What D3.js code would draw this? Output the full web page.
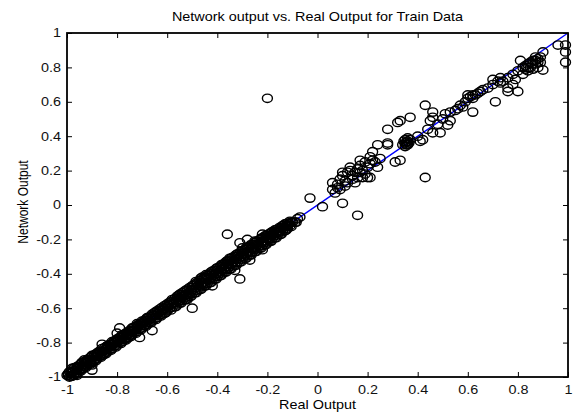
<!DOCTYPE html>
<html>
<head>
<meta charset="utf-8">
<script src="https://d3js.org/d3.v7.min.js"></script>
<style>
body { margin: 0; background: #fff; }
svg { display: block; font-family: "Liberation Sans", Arial, sans-serif; }
</style>
</head>
<body>
<svg id="chart" width="574" height="412"></svg>
<script>
var svg = d3.select('#chart');
var width = +svg.attr('width'), height = +svg.attr('height');

// tick values on both axes
var tickValues = [-1, -0.8, -0.6, -0.4, -0.2, 0, 0.2, 0.4, 0.6, 0.8, 1];

// dense band of train samples [real, network]
var denseBand = [
[-1.00,-0.99],[-0.99,-1.00],[-0.98,-0.97],[-0.97,-0.98],[-0.96,-0.95],[-0.95,-0.96],[-0.94,-0.92],[-0.93,-0.94],
[-0.92,-0.91],[-0.91,-0.92],[-0.90,-0.88],[-0.89,-0.90],[-0.88,-0.87],[-0.87,-0.88],[-0.86,-0.85],[-0.85,-0.86],
[-0.84,-0.82],[-0.83,-0.84],[-0.82,-0.81],[-0.81,-0.82],[-0.80,-0.78],[-0.79,-0.80],[-0.78,-0.77],[-0.77,-0.78],
[-0.76,-0.75],[-0.75,-0.76],[-0.74,-0.72],[-0.73,-0.74],[-0.72,-0.71],[-0.71,-0.72],[-0.70,-0.69],[-0.69,-0.70],
[-0.68,-0.66],[-0.67,-0.68],[-0.66,-0.65],[-0.65,-0.66],[-0.64,-0.62],[-0.63,-0.64],[-0.62,-0.61],[-0.61,-0.63],
[-0.60,-0.59],[-0.59,-0.60],[-0.58,-0.56],[-0.57,-0.59],[-0.56,-0.54],[-0.55,-0.57],[-0.54,-0.52],[-0.53,-0.55],
[-0.52,-0.50],[-0.51,-0.53],[-0.50,-0.48],[-0.49,-0.51],[-0.48,-0.46],[-0.47,-0.49],[-0.46,-0.45],[-0.45,-0.47],
[-0.44,-0.42],[-0.43,-0.45],[-0.42,-0.40],[-0.41,-0.43],[-0.40,-0.38],[-0.39,-0.41],[-0.38,-0.36],[-0.37,-0.39],
[-0.36,-0.34],[-0.35,-0.37],[-0.34,-0.32],[-0.33,-0.35],[-0.32,-0.30],[-0.31,-0.33],[-0.30,-0.28],[-0.29,-0.31],
[-0.28,-0.27],[-0.27,-0.29],[-0.26,-0.25],[-0.25,-0.27],[-0.24,-0.23],[-0.23,-0.25],[-0.22,-0.21],[-0.21,-0.23],
[-0.20,-0.19],[-0.19,-0.21],[-0.18,-0.17],[-0.17,-0.19],[-0.16,-0.15],[-0.15,-0.17],[-0.14,-0.13],[-0.13,-0.15],
[-0.12,-0.12],[-0.11,-0.12],[-0.10,-0.10],[-0.09,-0.10],[-0.08,-0.08],
[-0.995,-0.98],[-0.975,-0.99],[-0.955,-0.94],[-0.935,-0.95],[-0.915,-0.90],[-0.895,-0.91],[-0.875,-0.86],[-0.855,-0.87],
[-0.835,-0.83],[-0.815,-0.80],[-0.795,-0.79],[-0.775,-0.76],[-0.755,-0.77],[-0.735,-0.73],[-0.715,-0.70],[-0.695,-0.68],
[-0.675,-0.67],[-0.655,-0.64],[-0.635,-0.63],[-0.615,-0.60],[-0.595,-0.58],[-0.575,-0.57],[-0.555,-0.56],[-0.535,-0.53],
[-0.515,-0.52],[-0.495,-0.49],[-0.475,-0.47],[-0.455,-0.46],[-0.435,-0.43],[-0.415,-0.41],[-0.395,-0.40],[-0.375,-0.37],
[-0.355,-0.36],[-0.335,-0.33],[-0.315,-0.31],[-0.295,-0.30],[-0.275,-0.27],[-0.255,-0.26],[-0.235,-0.24],[-0.215,-0.22],
[-0.195,-0.20],[-0.175,-0.18],[-0.155,-0.16],[-0.135,-0.14],[-0.115,-0.11],
[-0.30,-0.25],[-0.27,-0.32],[-0.25,-0.21],[-0.22,-0.26],[-0.35,-0.31],[-0.33,-0.38],[-0.45,-0.43],[-0.42,-0.47],
[-0.98,-0.95],[-0.96,-0.99],[-0.93,-0.90],[-0.90,-0.93]
];

// samples lying right on the fit line inside the band
var bandCentre = [
[-0.995,-0.99],[-0.985,-0.975],[-0.975,-0.97],[-0.965,-0.96],[-0.955,-0.945],[-0.945,-0.94],[-0.935,-0.93],[-0.925,-0.915],
[-0.915,-0.91],[-0.905,-0.90],[-0.895,-0.885],[-0.885,-0.88],[-0.875,-0.87],[-0.865,-0.855],[-0.855,-0.85],[-0.845,-0.84],
[-0.835,-0.825],[-0.825,-0.82],[-0.815,-0.81],[-0.805,-0.795],[-0.795,-0.79],[-0.785,-0.78],[-0.775,-0.765],[-0.765,-0.76],
[-0.755,-0.75],[-0.745,-0.735],[-0.735,-0.73],[-0.725,-0.72],[-0.715,-0.705],[-0.705,-0.70],[-0.695,-0.69],[-0.685,-0.675],
[-0.675,-0.67],[-0.665,-0.66],[-0.655,-0.645],[-0.645,-0.64],[-0.635,-0.63],[-0.625,-0.615],[-0.615,-0.61],[-0.605,-0.60],
[-0.595,-0.585],[-0.585,-0.58],[-0.575,-0.57],[-0.565,-0.555],[-0.555,-0.55],[-0.545,-0.54],[-0.535,-0.525],[-0.525,-0.52],
[-0.515,-0.51],[-0.505,-0.495],[-0.495,-0.49],[-0.485,-0.48],[-0.475,-0.465],[-0.465,-0.46],[-0.455,-0.45],[-0.445,-0.435],
[-0.435,-0.43],[-0.425,-0.42],[-0.415,-0.405],[-0.405,-0.40],[-0.395,-0.39],[-0.385,-0.375],[-0.375,-0.37],[-0.365,-0.36],
[-0.355,-0.345],[-0.345,-0.34],[-0.335,-0.33],[-0.325,-0.315],[-0.315,-0.31],[-0.305,-0.30],[-0.295,-0.285],[-0.285,-0.28],
[-0.275,-0.27],[-0.265,-0.255],[-0.255,-0.25],[-0.245,-0.24],[-0.235,-0.225],[-0.225,-0.22],[-0.215,-0.21],[-0.205,-0.195],
[-0.195,-0.19],[-0.185,-0.18],[-0.175,-0.165],[-0.165,-0.16],[-0.155,-0.15],[-0.145,-0.135],[-0.135,-0.13],[-0.125,-0.12],
[-0.115,-0.11],[-0.105,-0.10]
];

// upper edge of the band
var bandAbove = [
[-0.99,-0.97],[-0.98,-0.96],[-0.97,-0.945],[-0.96,-0.94],[-0.95,-0.93],[-0.94,-0.915],[-0.93,-0.91],[-0.92,-0.90],
[-0.91,-0.89],[-0.90,-0.875],[-0.89,-0.87],[-0.88,-0.86],[-0.87,-0.85],[-0.86,-0.835],[-0.85,-0.83],[-0.84,-0.82],
[-0.83,-0.81],[-0.82,-0.795],[-0.81,-0.79],[-0.80,-0.78],[-0.79,-0.77],[-0.78,-0.755],[-0.77,-0.75],[-0.76,-0.74],
[-0.75,-0.73],[-0.74,-0.715],[-0.73,-0.71],[-0.72,-0.70],[-0.71,-0.69],[-0.70,-0.675],[-0.69,-0.67],[-0.68,-0.655],
[-0.67,-0.65],[-0.66,-0.635],[-0.65,-0.625],[-0.64,-0.615],[-0.63,-0.605],[-0.62,-0.595],[-0.61,-0.585],[-0.60,-0.575],
[-0.59,-0.565],[-0.58,-0.55],[-0.57,-0.545],[-0.56,-0.53],[-0.55,-0.52],[-0.54,-0.51],[-0.53,-0.50],[-0.52,-0.49],
[-0.51,-0.48],[-0.50,-0.47],[-0.49,-0.46],[-0.48,-0.45],[-0.47,-0.44],[-0.46,-0.43],[-0.45,-0.42],[-0.44,-0.41],
[-0.43,-0.40],[-0.42,-0.385],[-0.41,-0.38],[-0.40,-0.365],[-0.39,-0.36],[-0.38,-0.345],[-0.37,-0.34],[-0.36,-0.325],
[-0.35,-0.32],[-0.34,-0.305],[-0.33,-0.30],[-0.32,-0.285],[-0.31,-0.28],[-0.30,-0.265],[-0.29,-0.26],[-0.28,-0.245],
[-0.27,-0.24],[-0.26,-0.23],[-0.25,-0.22],[-0.24,-0.21],[-0.23,-0.20],[-0.22,-0.19],[-0.21,-0.18],[-0.20,-0.175],
[-0.19,-0.165],[-0.18,-0.155],[-0.17,-0.145],[-0.16,-0.14],[-0.15,-0.13],[-0.14,-0.12],[-0.13,-0.11],[-0.12,-0.105],
[-0.11,-0.095],
[-0.485,-0.445],[-0.465,-0.425],[-0.445,-0.405],[-0.425,-0.39],[-0.405,-0.37],[-0.385,-0.35],[-0.365,-0.33],
[-0.345,-0.31],[-0.325,-0.29],[-0.305,-0.27],[-0.285,-0.25],[-0.265,-0.23],[-0.245,-0.215],[-0.225,-0.195],
[-0.205,-0.18],[-0.185,-0.16]
];

// lower edge of the band
var bandBelow = [
[-0.985,-0.995],[-0.965,-0.985],[-0.945,-0.965],[-0.925,-0.945],[-0.905,-0.925],[-0.885,-0.905],[-0.865,-0.885],
[-0.845,-0.865],[-0.825,-0.845],[-0.805,-0.825],[-0.785,-0.805],[-0.765,-0.785],[-0.745,-0.765],[-0.725,-0.745],
[-0.705,-0.725],[-0.685,-0.705],[-0.665,-0.685],[-0.645,-0.665],[-0.625,-0.645],[-0.605,-0.625],[-0.585,-0.61],
[-0.565,-0.59],[-0.545,-0.57],[-0.525,-0.55],[-0.505,-0.53],[-0.485,-0.51],[-0.465,-0.49],[-0.445,-0.47],
[-0.425,-0.45],[-0.405,-0.43],[-0.385,-0.41],[-0.365,-0.39],[-0.345,-0.37],[-0.325,-0.35],[-0.305,-0.33],
[-0.285,-0.31],[-0.265,-0.29],[-0.245,-0.27],[-0.225,-0.25],[-0.205,-0.23],[-0.185,-0.21],[-0.165,-0.19],
[-0.145,-0.17],[-0.125,-0.145],[-0.105,-0.125],[-0.085,-0.10],
[-0.98,-0.995],[-0.96,-0.975],[-0.94,-0.955],[-0.92,-0.935],[-0.90,-0.915],[-0.88,-0.895],[-0.86,-0.875],
[-0.84,-0.855],[-0.82,-0.835],[-0.80,-0.815],[-0.78,-0.795],[-0.76,-0.775],[-0.74,-0.755],[-0.72,-0.735],
[-0.70,-0.715],[-0.68,-0.695],[-0.66,-0.675],[-0.64,-0.655],[-0.62,-0.635],[-0.60,-0.615],[-0.58,-0.595],
[-0.56,-0.575],[-0.54,-0.555],[-0.52,-0.535],[-0.50,-0.515],[-0.48,-0.495],[-0.46,-0.475],[-0.44,-0.455],
[-0.42,-0.435],[-0.40,-0.415],[-0.38,-0.395],[-0.36,-0.375],[-0.34,-0.355],[-0.32,-0.335],[-0.30,-0.315],
[-0.28,-0.295],[-0.26,-0.275],[-0.24,-0.255],[-0.22,-0.235],[-0.20,-0.215],[-0.18,-0.195],[-0.16,-0.175],
[-0.14,-0.155],[-0.12,-0.135]
];

// scattered samples above zero
var upperPoints = [
[-0.03,0.04],[0.02,-0.01],[0.10,0.01],[0.16,-0.06],
[0.06,0.09],[0.08,0.12],[0.09,0.15],[0.10,0.17],[0.12,0.19],[0.13,0.20],[0.15,0.19],[0.17,0.19],[0.18,0.20],
[0.20,0.22],[0.21,0.24],[0.22,0.26],[0.07,0.07],[0.09,0.09],[0.12,0.13],[0.14,0.15],[0.16,0.16],[0.18,0.16],
[0.20,0.16],[0.06,0.13],[0.10,0.19],[0.13,0.22],[0.17,0.23],[0.21,0.28],[0.22,0.31],[0.24,0.35],[0.28,0.35],
[0.24,0.22],[0.31,0.25],[0.17,0.26],[0.21,0.16],
[0.11,0.14],[0.14,0.17],[0.16,0.21],[0.19,0.18],[0.08,0.10],[0.11,0.11],[0.15,0.13],[0.19,0.25],[0.23,0.25],[0.25,0.27],
[0.34,0.35],[0.35,0.36],[0.35,0.38],[0.36,0.37],[0.36,0.35],[0.37,0.38],[0.35,0.34],[0.36,0.39],
[0.355,0.365],[0.345,0.37],[0.365,0.36],[0.355,0.35],
[0.43,0.16],[0.33,0.26],
[0.28,0.36],[0.28,0.44],[0.32,0.48],[0.33,0.49],[0.37,0.51],[0.43,0.58],[0.46,0.54],[0.46,0.51],[0.45,0.49],
[0.51,0.53],[0.53,0.49],[0.52,0.465],[0.55,0.55],[0.49,0.42],[0.46,0.42],[0.42,0.38],[0.41,0.37],[0.40,0.40],
[0.44,0.44],[0.48,0.47],[0.50,0.50],[0.53,0.54],[0.56,0.56],[0.57,0.58],[0.58,0.57],[0.59,0.60],
[0.60,0.62],[0.61,0.63],[0.62,0.62],[0.63,0.64],[0.60,0.64],
[0.62,0.54],[0.71,0.60],[0.62,0.64],[0.64,0.65],[0.65,0.66],[0.66,0.67],[0.68,0.68],[0.70,0.70],[0.73,0.71],
[0.76,0.66],[0.80,0.66],[0.76,0.68],[0.79,0.73],[0.76,0.74],[0.78,0.70],[0.73,0.74],[0.70,0.73],[0.82,0.76],
[0.90,0.785],[0.81,0.84],[0.82,0.80],[0.84,0.82],[0.85,0.80],[0.86,0.84],[0.87,0.82],[0.88,0.85],[0.89,0.83],
[0.84,0.78],[0.86,0.79],[0.88,0.80],[0.90,0.89],[0.96,0.93],[0.99,0.89],[0.99,0.83],[0.99,0.93],[0.78,0.76],
[0.80,0.78],[0.74,0.72],[0.72,0.72],
[0.83,0.81],[0.85,0.83],[0.87,0.84],[0.86,0.82],[0.88,0.83],[0.84,0.80],[0.89,0.86],[0.83,0.79],[0.87,0.86]
];

// samples off the band on the negative side
var outliers = [
[-0.20,0.62],[-0.36,-0.17],[-0.31,-0.22],[-0.28,-0.20],[-0.22,-0.17],[-0.31,-0.43],[-0.46,-0.42],
[-0.55,-0.52],[-0.50,-0.60],[-0.52,-0.55],[-0.79,-0.715],[-0.80,-0.745],[-0.71,-0.77],[-0.66,-0.73],
[-0.86,-0.81],[-0.90,-0.96],[-0.72,-0.69],[-0.07,-0.07]
];

// ideal fit line
var fitLine = [[-1,-1],[1,1]];

var plotLeft = 67, plotRight = 568, plotTop = 33, plotBottom = 377;
var stretch = 'scale(1.2,1)';
var x = d3.scaleLinear().domain([-1, 1]).range([plotLeft, plotRight]);
var y = d3.scaleLinear().domain([-1, 1]).range([plotBottom, plotTop]);
var fmt = d => String(+d.toFixed(1));

var line = d3.line().x(d => x(d[0])).y(d => y(d[1]));
svg.append('path').datum(fitLine)
	.attr('d', line)
	.attr('fill', 'none')
	.attr('stroke', '#0000ff')
	.attr('stroke-width', 1.4);

// markers are a little wider than tall, as in the stretched original
var allPoints = denseBand.concat(bandCentre, bandAbove, bandBelow, upperPoints, outliers);
svg.append('g').selectAll('ellipse').data(allPoints).enter().append('ellipse')
	.attr('cx', d => x(d[0]))
	.attr('cy', d => y(d[1]))
	.attr('rx', 5)
	.attr('ry', 4.2)
	.attr('fill', 'none')
	.attr('stroke', '#000')
	.attr('stroke-width', 1.4);

function style(g) {
	g.select('.domain').remove();
	g.selectAll('line').attr('stroke', '#000').attr('stroke-width', 1);
	g.selectAll('text').attr('fill', '#111').style('font-size', '12px').attr('transform', stretch);
}

svg.append('g').attr('transform', 'translate(0,' + plotBottom + ')')
	.call(d3.axisBottom(x).tickValues(tickValues).tickFormat(fmt).tickSize(-5).tickPadding(8))
	.call(style);
svg.append('g').attr('transform', 'translate(' + plotLeft + ',0)')
	.call(d3.axisLeft(y).tickValues(tickValues).tickFormat(fmt).tickSize(-5).tickPadding(5))
	.call(style);
svg.append('g').attr('transform', 'translate(0,' + plotTop + ')')
	.call(d3.axisTop(x).tickValues(tickValues).tickFormat('').tickSize(-5))
	.call(style);
svg.append('g').attr('transform', 'translate(' + plotRight + ',0)')
	.call(d3.axisRight(y).tickValues(tickValues).tickFormat('').tickSize(-5))
	.call(style);

svg.append('rect')
	.attr('x', plotLeft).attr('y', plotTop)
	.attr('width', plotRight - plotLeft).attr('height', plotBottom - plotTop)
	.attr('fill', 'none').attr('stroke', '#000').attr('stroke-width', 1.8);

svg.append('text').attr('transform', 'translate(' + ((plotLeft + plotRight) / 2) + ',21) ' + stretch)
	.attr('text-anchor', 'middle').style('font-size', '12px')
	.text('Network output vs. Real Output for Train Data');
svg.append('text').attr('transform', 'translate(' + ((plotLeft + plotRight) / 2) + ',409) ' + stretch)
	.attr('text-anchor', 'middle').style('font-size', '12px')
	.text('Real Output');
svg.append('text').attr('transform', 'translate(28,202) rotate(-90) scale(1,1.2)')
	.attr('text-anchor', 'middle').style('font-size', '12px')
	.text('Network Output');
</script>
</body>
</html>
